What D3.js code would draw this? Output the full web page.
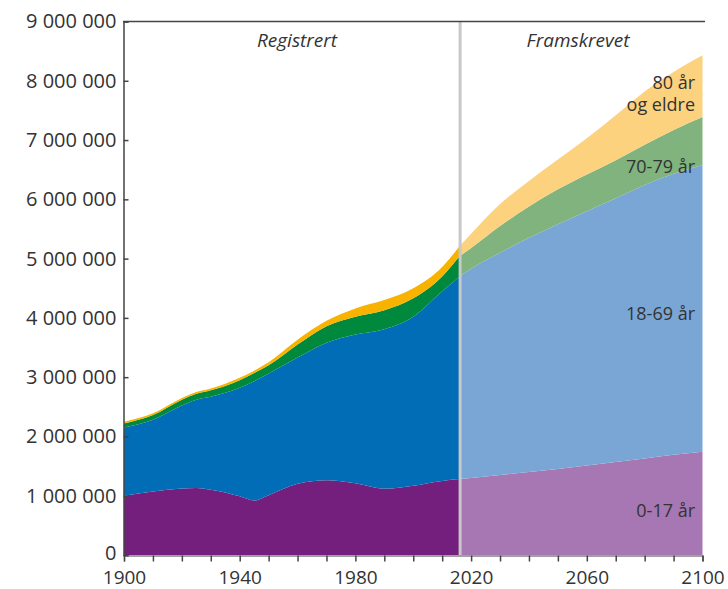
<!DOCTYPE html>
<html><head><meta charset="utf-8">
<script src="https://cdn.jsdelivr.net/npm/d3@7"></script>
<style>body{margin:0;background:#fff}svg{display:block}text{font-family:"Open Sans",sans-serif;fill:#333}</style>
</head><body><svg id="c" width="728" height="589"></svg>
<script>
const keys = ["a0_17","a18_69","a70_79","a80"];
const regYears   = [1900,1910,1920,1925,1930,1940,1945,1950,1960,1970,1980,1990,2000,2010,2016];
const reg0_17    = [1000,1070,1120,1130,1100, 990, 920,1010,1200,1260,1210,1120,1170,1250,1280];
const reg18_69   = [1150,1210,1400,1490,1570,1830,2010,2050,2130,2320,2510,2690,2850,3200,3420];
const reg70_79   = [  70,  80, 100, 100, 110, 130, 140, 140, 220, 280, 300, 320, 310, 250, 340];
const reg80      = [  30,  30,  30,  30,  30,  40,  40,  50,  80,  90, 140, 170, 170, 160, 170];
const projYears  = [2016,2020,2030,2040,2050,2060,2070,2080,2090,2100];
const proj0_17   = [1280,1300,1350,1400,1450,1510,1570,1630,1690,1740];
const proj18_69  = [3420,3530,3750,3950,4130,4290,4450,4610,4740,4840];
const proj70_79  = [ 340, 350, 450, 530, 590, 620, 640, 680, 740, 810];
const proj80     = [ 170, 240, 370, 430, 500, 610, 760, 900, 980,1040];
const yTicks = [0,1e6,2e6,3e6,4e6,5e6,6e6,7e6,8e6,9e6];
const xTickLabels = [1900,1940,1980,2020,2060,2100];
const labels = [["80 år","og eldre"],["70-79 år"],["18-69 år"],["0-17 år"]];
const regColors  = ["#741f7e","#006db6","#00893c","#f8b200"];
const projColors = ["#a677b2","#7aa6d6","#80b37e","#fdd27f"];

const svg = d3.select("#c");
const x = d3.scaleLinear([1900,2100],[124,702.5]);
const y = d3.scaleLinear([0,9e6],[555,21.5]);

function rows(years, arrs){ return years.map((yr,i)=>({year:yr, a0_17:arrs[0][i]*1000, a18_69:arrs[1][i]*1000, a70_79:arrs[2][i]*1000, a80:arrs[3][i]*1000})); }
const stack = d3.stack().keys(keys);
const area = d3.area().x(d=>x(d.data.year)).y0(d=>y(d[0])).y1(d=>y(d[1])).curve(d3.curveMonotoneX);

const regS = stack(rows(regYears,[reg0_17,reg18_69,reg70_79,reg80]));
const projS = stack(rows(projYears,[proj0_17,proj18_69,proj70_79,proj80]));
svg.append("g").selectAll("path").data(regS).join("path").attr("d",area).attr("fill",(d,i)=>regColors[i]);
svg.append("g").selectAll("path").data(projS).join("path").attr("d",area).attr("fill",(d,i)=>projColors[i]);

// divider
svg.append("line").attr("x1",x(2016.2)).attr("x2",x(2016.2)).attr("y1",y(9e6)).attr("y2",y(0)).attr("stroke","#c8c8c8").attr("stroke-width",3);

// frame top
svg.append("line").attr("x1",123).attr("x2",705).attr("y1",y(9e6)).attr("y2",y(9e6)).attr("stroke","#444").attr("stroke-width",1.5);

// y axis
const ya = svg.append("g").attr("transform","translate(123.5,0)")
  .call(d3.axisRight(y).tickValues(yTicks).tickSize(5).tickFormat(d=>d3.format(",")(d).replace(/,/g," ")));
ya.select(".domain").attr("stroke","#444").attr("stroke-width",1.5);
ya.selectAll(".tick line").attr("stroke","#444").attr("stroke-width",1.5);
ya.selectAll(".tick text").attr("x",-7).attr("text-anchor","end").style("font-size","20px").attr("fill","#333").attr("font-family","Open Sans");
ya.selectAll(".tick text").filter(d=>d===0).attr("dy","0.2em");

// x axis
const xa = svg.append("g").attr("transform","translate(0,555.5)")
  .call(d3.axisBottom(x).tickValues(d3.range(1900,2101,10)).tickSize(6).tickFormat(d=>xTickLabels.includes(d)?d:""));
xa.select(".domain").attr("stroke","#444").attr("stroke-width",1.2);
xa.selectAll(".tick line").attr("stroke","#444").attr("stroke-width",1.5);
xa.selectAll(".tick text").attr("y",15).style("font-size","19px").attr("fill","#333").attr("font-family","Open Sans");

// section titles
svg.append("text").attr("x",297).attr("y",47).attr("text-anchor","middle").style("font-size","19px").style("font-style","italic").text("Registrert");
svg.append("text").attr("x",578).attr("y",47).attr("text-anchor","middle").style("font-size","19px").style("font-style","italic").text("Framskrevet");

// group labels
const labY = [[89,111],[173],[320],[517]];
labels.forEach((ls,i)=>ls.forEach((t,j)=>svg.append("text").attr("x",695).attr("y",labY[i][j]).attr("text-anchor","end").style("font-size","18px").text(t)));
</script></body></html>
